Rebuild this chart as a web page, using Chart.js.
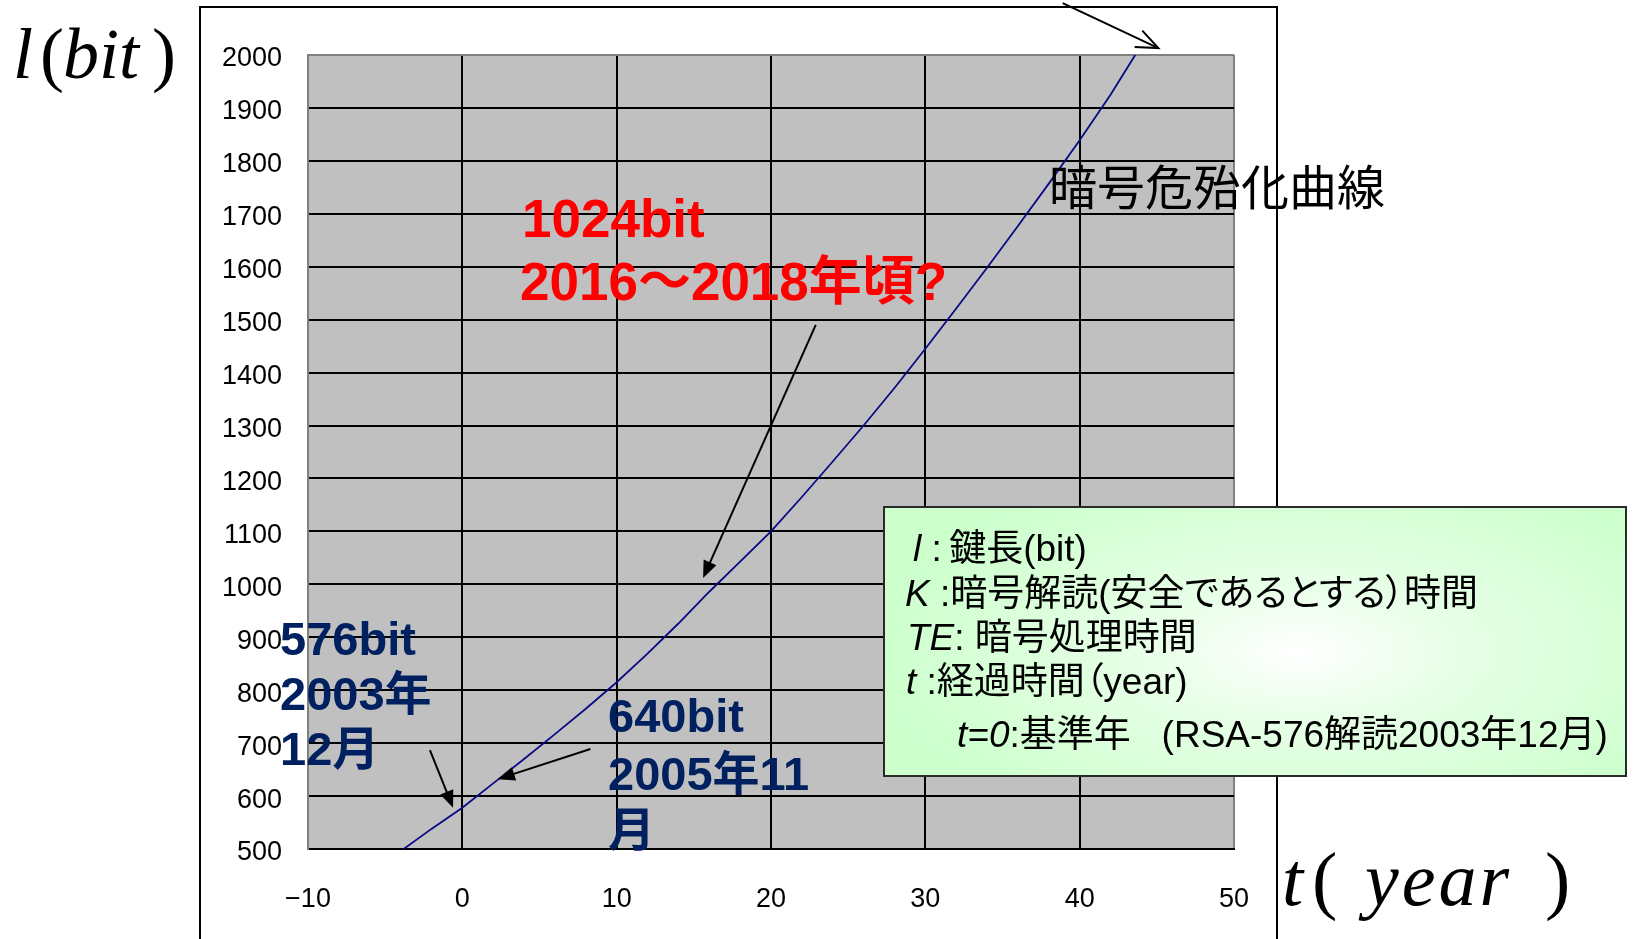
<!DOCTYPE html>
<html><head><meta charset="utf-8">
<script src="https://cdn.jsdelivr.net/npm/chart.js@4.4.1/dist/chart.umd.min.js"></script>
<style>
html,body{margin:0;padding:0;background:#fff;}
#wrap{position:relative;width:1633px;height:939px;overflow:hidden;background:#fff;}
canvas{position:absolute;left:0;top:0;}
.t{position:absolute;left:0;top:0;white-space:nowrap;line-height:1.2;}
.bm{display:inline-block;width:0;height:0;vertical-align:baseline;}
#box{position:absolute;left:883px;top:506px;width:740px;height:267px;border:2px solid #2a2a2a;
 background:radial-gradient(ellipse 58% 72% at 56% 54%, #ffffff 0%, #e8ffe8 35%, #ccffcc 100%);}
</style></head><body>
<div id="wrap"><canvas id="c" width="1633" height="939"></canvas><div id="box"></div></div>
<script>
// ---- data ----
const tYears  = [-3.8, -2, 0, 2, 4, 6, 8, 10, 12, 14, 16, 18, 20, 22, 24, 26, 28, 30, 32, 34, 36, 38, 40, 42, 43.6];
const keyBits = [500, 538, 578, 624, 670, 717, 765, 815, 869, 926, 986, 1043, 1100, 1165, 1232, 1300, 1371, 1445, 1521, 1598, 1677, 1757, 1839, 1925, 2000];
const xTickLabels = ['\u221210', '0', '10', '20', '30', '40', '50'];
const yTickLabels = ['500','600','700','800','900','1000','1100','1200','1300','1400','1500','1600','1700','1800','1900','2000'];
// annotation arrows, in chart units [t, l]
const arrows = [
  {from:[38.9, 2098], to:[45.1, 2013], open:true},
  {from:[22.9, 1490], to:[15.6, 1012]},
  {from:[-2.1, 687],  to:[-0.6, 578]},
  {from:[8.3, 689],   to:[2.3, 632]}
];

const TICK_FONT = "'Liberation Sans',Arial,sans-serif";
const wrap = document.getElementById('wrap');

function drawArrow(ctx, x1, y1, x2, y2, open) {
  const a = Math.atan2(y2 - y1, x2 - x1);
  const L = open ? 22 : 17, W = open ? 9 : 7;
  ctx.save();
  ctx.strokeStyle = '#000'; ctx.fillStyle = '#000'; ctx.lineWidth = 2;
  ctx.beginPath();
  ctx.moveTo(x1, y1);
  ctx.lineTo(open ? x2 : x2 - Math.cos(a) * L * 0.8, open ? y2 : y2 - Math.sin(a) * L * 0.8);
  ctx.stroke();
  const bx = x2 - Math.cos(a) * L, by = y2 - Math.sin(a) * L;
  const px = -Math.sin(a) * W, py = Math.cos(a) * W;
  ctx.beginPath();
  if (open) {
    ctx.moveTo(bx + px, by + py); ctx.lineTo(x2, y2); ctx.lineTo(bx - px, by - py);
    ctx.stroke();
  } else {
    ctx.moveTo(x2, y2); ctx.lineTo(bx + px, by + py); ctx.lineTo(bx - px, by - py); ctx.closePath();
    ctx.fill();
  }
  ctx.restore();
}

const bgPlugin = {
  id: 'bg',
  beforeDraw(chart) {
    const {ctx, chartArea: a} = chart;
    ctx.save();
    ctx.fillStyle = '#fff'; ctx.fillRect(0, 0, chart.width, chart.height);
    ctx.fillStyle = '#c0c0c0'; ctx.fillRect(a.left, a.top, a.right - a.left, a.bottom - a.top);
    ctx.strokeStyle = '#000'; ctx.lineWidth = 2;
    ctx.beginPath();
    ctx.moveTo(200, 960); ctx.lineTo(200, 7); ctx.lineTo(1277, 7); ctx.lineTo(1277, 960);
    ctx.stroke();
    ctx.restore();
  },
  afterDraw(chart) {
    const {ctx} = chart; const xs = chart.scales.x, ys = chart.scales.y;
    arrows.forEach(ar => {
      drawArrow(ctx, xs.getPixelForValue(ar.from[0]), ys.getPixelForValue(ar.from[1]),
                xs.getPixelForValue(ar.to[0]), ys.getPixelForValue(ar.to[1]), ar.open);
    });
  }
};

new Chart(document.getElementById('c'), {
  type: 'line',
  data: { datasets: [{
    data: tYears.map((t, i) => ({x: t, y: keyBits[i]})),
    borderColor: '#0a0a86', borderWidth: 1.8, pointRadius: 0, tension: 0, fill: false
  }]},
  options: {
    responsive: false, animation: false, devicePixelRatio: 1,
    layout: { padding: { left: 0, top: 55, right: 399, bottom: 0 } },
    plugins: { legend: { display: false }, tooltip: { enabled: false } },
    scales: {
      x: {
        type: 'linear', min: -10, max: 50,
        ticks: { stepSize: 10, padding: 34, color: '#000', maxRotation: 0, autoSkip: false,
                 font: { family: TICK_FONT, size: 27 }, callback: (v, i) => xTickLabels[i] },
        grid: { lineWidth: 2, drawTicks: false,
                color: c => (c.tick && (c.tick.value === -10 || c.tick.value === 50)) ? '#808080' : '#000' },
        border: { color: '#000', width: 2 },
        afterFit: s => { s.height = 90; }
      },
      y: {
        min: 500, max: 2000,
        ticks: { stepSize: 100, padding: 26, labelOffset: 4, color: '#000', autoSkip: false,
                 font: { family: TICK_FONT, size: 27 }, callback: (v, i) => yTickLabels[i] },
        grid: { lineWidth: 2, drawTicks: false,
                color: c => (c.tick && c.tick.value === 2000) ? '#808080' : '#000' },
        border: { color: '#808080', width: 2 },
        afterFit: s => { s.width = 308; }
      }
    }
  },
  plugins: [bgPlugin]
});

function addText(html, x, baseline, style) {
  const d = document.createElement('div');
  d.className = 't';
  Object.assign(d.style, style);
  d.innerHTML = '<span class="bm"></span>' + html;
  wrap.appendChild(d);
  const m = d.querySelector('.bm');
  d.style.left = x + 'px';
  d.style.top = (baseline - m.offsetTop) + 'px';
}

const SERIF_I = {fontFamily: "'Liberation Serif','Times New Roman',serif", fontStyle: 'italic', fontSize: '72px', color: '#000'};
const SERIF_U = {fontFamily: "'Liberation Serif','Times New Roman',serif", fontSize: '72px', color: '#000'};
const SERIF_I2 = Object.assign({}, SERIF_I, {fontSize: '76px'});
const SERIF_U2 = Object.assign({}, SERIF_U, {fontSize: '76px'});
const CJK = "'Noto Sans CJK JP','Noto Sans CJK SC',sans-serif";
const BOLD = {fontFamily: "'Liberation Sans','Noto Sans CJK JP',sans-serif", fontWeight: 'bold'};
const NAVY = Object.assign({}, BOLD, {fontSize: '47px', color: '#002060'});
const RED = Object.assign({}, BOLD, {fontSize: '53px', color: '#ff0000'});
const LEG = {fontFamily: "'Liberation Sans','Noto Sans CJK JP',sans-serif", fontSize: '37px', color: '#000'};
const LEG_P = Object.assign({}, LEG, {fontFeatureSettings: '"palt" 1'});

// axis titles l(bit) and t(year)
addText('l', 13, 78, SERIF_I);
addText('(', 40, 78, SERIF_U);
addText('bit', 63, 78, SERIF_I);
addText(')', 152, 78, SERIF_U);
addText('t', 1282, 905, SERIF_I2);
addText('(', 1312, 905, SERIF_U2);
addText('<span style="letter-spacing:3px">year</span>', 1365, 905, SERIF_I2);
addText(')', 1545, 905, SERIF_U2);

addText('暗号危殆化曲線', 1049, 205, {fontFamily: CJK, fontSize: '48px', color: '#000'});

addText('1024bit', 522, 237, RED);
addText('2016～2018年頃?', 520, 300, RED);

addText('576bit', 280, 655, NAVY);
addText('2003年', 280, 710, NAVY);
addText('12月', 280, 765, NAVY);

addText('640bit', 608, 732, NAVY);
addText('2005年11', 608, 790, NAVY);
addText('月', 608, 846, NAVY);

addText('<i>l</i> :&thinsp;鍵長(bit)', 913, 561, LEG);
addText('<i>K</i> :暗号解読(安全であるとする）時間', 905, 606, LEG_P);
addText('<i>TE</i>: 暗号処理時間', 907, 650, LEG);
addText('<i>t</i> :経過時間（year)', 906, 694, LEG_P);
addText('<i>t=0</i>:基準年&nbsp;&nbsp;&nbsp;(RSA-576解読2003年12月)', 957, 747, LEG);
</script>
</body></html>
